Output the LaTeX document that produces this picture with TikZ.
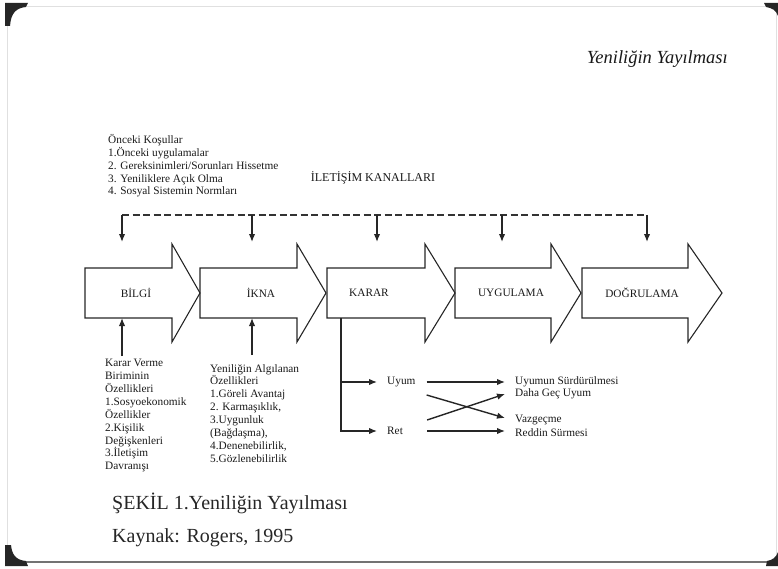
\documentclass[tikz,border=0pt]{standalone}
\usepackage{fontspec}
\setmainfont{Liberation Serif}
\usetikzlibrary{arrows.meta,positioning}
\newlength{\StageFont}
\setlength{\StageFont}{11.3pt}
\tikzset{
  stage/.style={draw=black!85, line width=1.1pt, line join=miter},
  stage text/.style={font=\fontsize{\StageFont}{13pt}\selectfont, text=black!90, inner sep=0pt},
  note/.style={font=\fontsize{\StageFont}{12.9pt}\selectfont, text=black!90, align=left, inner sep=0pt, anchor=north west},
  channel/.style={draw=black!80, line width=1.8pt, dash pattern=on 7pt off 3.5pt},
  feed/.style={draw=black!85, line width=1.4pt, -{Latex[length=8pt,width=6.5pt]}},
  caption/.style={font=\fontsize{20}{24}\selectfont, text=black!85, inner sep=0pt, anchor=base west},
  corner/.style={fill=black!85},
}

\begin{document}
\begin{tikzpicture}[x=1pt, y=-1pt]
  \useasboundingbox (0,0) rectangle (778,569);
  \draw[black!12, line width=1pt] (7,7) rectangle (776,562);
  \draw[black!55, line width=1.6pt] (7,562) -- (778,562);
  \fill[corner] (5,3) -- (28,3) -- (26,7) .. controls (16,8) and (11,13) .. (10,26) -- (5,26) -- cycle;
  \fill[corner] (5,566) -- (28,566) -- (26,561) .. controls (16,560) and (12,555) .. (11,545) -- (5,545) -- cycle;
  \fill[corner] (764,3) -- (778,3) -- (778,16) .. controls (776,10) and (772,8) .. (766,7) -- cycle;
  \fill[corner] (766,566) -- (778,566) -- (778,552) .. controls (776,558) and (772,560) .. (767,561) -- cycle;

  \node[font=\fontsize{18.5}{22}\selectfont\itshape, text=black!90, inner sep=0pt, anchor=base east] (head) at (728,64) {Yeniliğin Yayılması};

  \node[note] (onceki) at (108,134) {Önceki Koşullar\\1.Önceki uygulamalar\\2. Gereksinimleri/Sorunları Hissetme\\3. Yeniliklere Açık Olma\\4. Sosyal Sistemin Normları};
  \node[stage text, font=\fontsize{12}{14}\selectfont] (kanal) at (373,178) {İLETİŞİM KANALLARI};

  \foreach \l/\h/\t/\c/\n/\txt in {85/172/200/136/bilgi/BİLGİ, 200/297/326/261/ikna/İKNA, 327/425/455/369/karar/KARAR, 455/551/581/511/uygulama/UYGULAMA, 582/688/722/642/dogrulama/DOĞRULAMA} {
    \draw[stage] (\l,268) -- (\h,268) -- (\h,244) -- (\t,293) -- (\h,342) -- (\h,318) -- (\l,318) -- cycle;
    \node[stage text] (\n) at (\c,293) {\txt};
  }

  \coordinate (d1) at (122,215);
  \coordinate (d2) at (252,215);
  \coordinate (d3) at (377,215);
  \coordinate (d4) at (502,215);
  \coordinate (d5) at (647,215);
  \draw[channel] (d1) -- (d5);
  \foreach \i in {1,...,5}
    \draw[feed] (d\i) -- ++(0,27);

  \node[note] (birim) at (105,359) {Karar Verme\\Biriminin\\Özellikleri\\1.Sosyoekonomik\\Özellikler\\2.Kişilik\\Değişkenleri\\3.İletişim\\Davranışı};
  \node[note] (algi) at (210,364) {Yeniliğin Algılanan\\Özellikleri\\1.Göreli Avantaj\\2. Karmaşıklık,\\3.Uygunluk\\(Bağdaşma),\\4.Denenebilirlik,\\5.Gözlenebilirlik};
  \coordinate (u1) at (122,318);
  \coordinate (u2) at (252,318);
  \draw[feed] ([yshift=3pt]birim.north -| u1) -- (u1);
  \draw[feed] ([yshift=9pt]algi.north -| u2) -- (u2);

  \node[stage text, anchor=west] (uyum) at (387,382) {Uyum};
  \node[stage text, anchor=west] (ret) at (387,431) {Ret};
  \node[stage text, anchor=west] (surdur) at (515,382) {Uyumun Sürdürülmesi};
  \node[stage text, anchor=west] (gec) at (515,394) {Daha Geç Uyum};
  \node[stage text, anchor=west] (vazgec) at (515,420) {Vazgeçme};
  \node[stage text, anchor=west] (reddin) at (515,433) {Reddin Sürmesi};
  \coordinate (k) at (341,318);
  \draw[feed] (k) |- ([xshift=-10pt]uyum.west);
  \draw[feed] (k) |- ([xshift=-10pt]ret.west);
  \draw[feed] ([xshift=11pt]uyum.east) -- ([xshift=-10pt]surdur.west);
  \draw[feed] ([xshift=24pt]ret.east) -- ([xshift=-10pt,yshift=2pt]reddin.west);
  \draw[feed] ([xshift=11pt,yshift=-13pt]uyum.east) -- ([xshift=-10pt,yshift=2pt]vazgec.west);
  \draw[feed] ([xshift=24pt,yshift=11pt]ret.east) -- ([xshift=-10pt]gec.west);

  \node[caption] (sekil) at (112,509) {ŞEKİL 1.Yeniliğin Yayılması};
  \node[caption] (kaynak) at (112,542) {Kaynak: Rogers, 1995};
\end{tikzpicture}
\end{document}
